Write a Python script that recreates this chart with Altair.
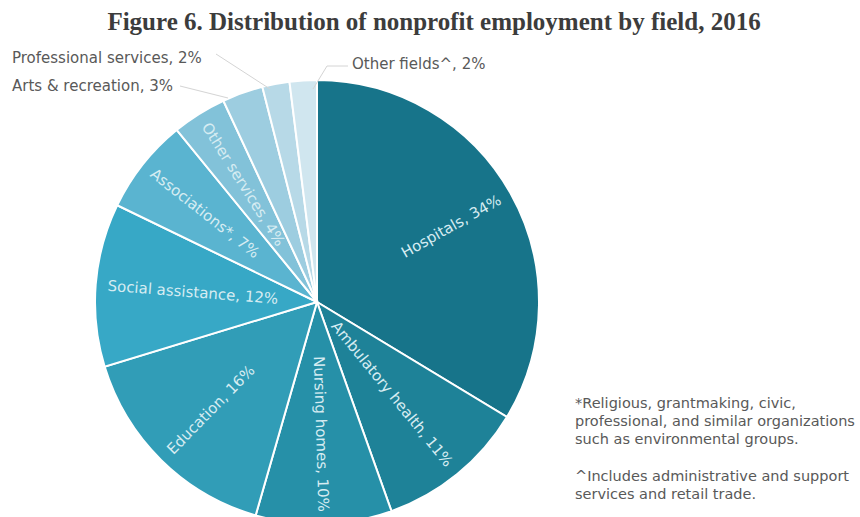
import altair as alt
import pandas as pd

# ---- data ----
fields = ["Hospitals", "Ambulatory health", "Nursing homes", "Education",
          "Social assistance", "Associations*", "Other services",
          "Arts & recreation", "Professional services", "Other fields^"]
shares = [34, 11, 10, 16, 12, 7, 4, 3, 2, 2]
inside_labels = ["Hospitals, 34%", "Ambulatory health, 11%", "Nursing homes, 10%",
                 "Education, 16%", "Social assistance, 12%", "Associations*, 7%",
                 "Other services, 4%", "", "", ""]
outside_labels = ["Arts & recreation, 3%", "Professional services, 2%", "Other fields^, 2%"]
colors = ["#17748a", "#1e8298", "#2690a8", "#319db7", "#37a8c6",
          "#5ab4d0", "#82c2d9", "#9dcde0", "#b7d9e7", "#d0e6ef"]
title_text = "Figure 6. Distribution of nonprofit employment by field, 2016"
note1 = ["*Religious, grantmaking, civic,",
         "professional, and similar organizations",
         "such as environmental  groups."]
note2 = ["^Includes administrative and support",
         "services and retail trade."]

# ---- table built from the arrays ----
total = sum(shares)
rows = []
cum = 0
for i, (f, v, lab) in enumerate(zip(fields, shares, inside_labels)):
    mid = cum + v / 2
    cum += v
    mid_deg = mid / total * 360
    if mid_deg < 180:
        ang = (mid_deg - 90) % 360
        side = "right"
    else:
        ang = (mid_deg - 270) % 360
        side = "left"
    rows.append(dict(idx=i, field=f, share=v, label=lab, mid=mid, angle=ang, side=side))
df = pd.DataFrame(rows)

CX, CY, R = 317, 302, 222
theta_scale = alt.Scale(domain=[0, total])

base = alt.Chart(df)

arcs = base.mark_arc(outerRadius=R, stroke="white", strokeWidth=2).encode(
    theta=alt.Theta("share:Q", stack=True, scale=theta_scale),
    color=alt.Color("field:N", scale=alt.Scale(domain=fields, range=colors), legend=None),
    order=alt.Order("idx:Q"),
    x=alt.value(CX), y=alt.value(CY),
)

def label_layer(side, align):
    return base.transform_filter(
        f"datum.side == '{side}' && datum.label != ''"
    ).mark_text(
        radius=R - 12, align=align, baseline="middle",
        font="DejaVu Sans", fontSize=15, color="#d6ecf2",
    ).encode(
        theta=alt.Theta("mid:Q", stack=None, scale=theta_scale),
        angle=alt.Angle("angle:Q", scale=None),
        text="label:N",
        x=alt.value(CX), y=alt.value(CY),
    )

labels_r = label_layer("right", "right")
labels_l = label_layer("left", "left")

one = alt.Chart(pd.DataFrame({"a": [0]}))

title = one.mark_text(font="Liberation Serif", fontSize=25, fontWeight="bold",
                      color="#3c3c3c", align="center", baseline="middle").encode(
    text=alt.value(title_text), x=alt.value(434), y=alt.value(22))

out_style = dict(font="DejaVu Sans", fontSize=15, color="#595959",
                 align="left", baseline="middle")
lab_arts = one.mark_text(**out_style).encode(text=alt.value(outside_labels[0]),
                                             x=alt.value(12), y=alt.value(86))
lab_prof = one.mark_text(**out_style).encode(text=alt.value(outside_labels[1]),
                                             x=alt.value(12), y=alt.value(58))
lab_other = one.mark_text(**out_style).encode(text=alt.value(outside_labels[2]),
                                              x=alt.value(352), y=alt.value(64))

def seg(x1, y1, x2, y2):
    return one.mark_rule(color="#d4d4d4", strokeWidth=1).encode(
        x=alt.value(x1), y=alt.value(y1), x2=alt.value(x2), y2=alt.value(y2))

leaders = [seg(180, 86, 228, 98), seg(216, 54, 270, 89),
           seg(313, 89, 327, 66), seg(327, 66, 348, 66)]

note_style = dict(font="DejaVu Sans", fontSize=14.5, color="#595959",
                  align="left", baseline="middle", lineHeight=18)
n1 = one.mark_text(**note_style).encode(text=alt.value(note1), x=alt.value(575), y=alt.value(404))
n2 = one.mark_text(**note_style).encode(text=alt.value(note2), x=alt.value(575), y=alt.value(477))

chart = alt.layer(arcs, labels_r, labels_l, title, lab_arts, lab_prof, lab_other,
                  *leaders, n1, n2).properties(
    width=860, height=517, autosize=alt.AutoSizeParams(type="none"), padding=0,
    background="white",
).configure_view(stroke=None)

chart.save("out.html", embed_options={"renderer": "svg", "actions": False})
